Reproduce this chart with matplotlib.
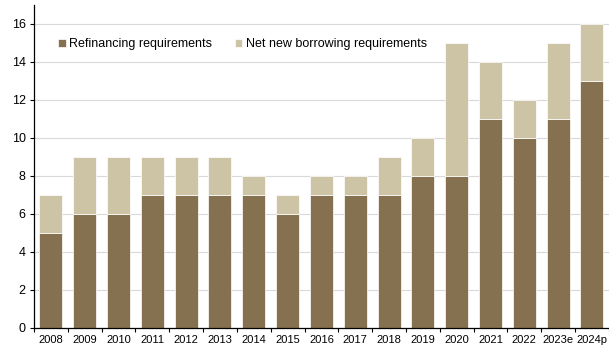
import numpy as np
import matplotlib
matplotlib.use("Agg")
from matplotlib import pyplot as plt
from matplotlib.ticker import FixedLocator

plt.rcParams["font.family"] = ["Liberation Sans", "DejaVu Sans"]

years = ["2008", "2009", "2010", "2011", "2012", "2013", "2014", "2015", "2016",
         "2017", "2018", "2019", "2020", "2021", "2022", "2023e", "2024p"]
refinancing = [5, 6, 6, 7, 7, 7, 7, 6, 7, 7, 7, 8, 8, 11, 10, 11, 13]
net_new = [2, 3, 3, 2, 2, 2, 1, 1, 1, 1, 2, 2, 7, 3, 2, 4, 3]

dark = "#857150"
light = "#CDC4A5"

fig = plt.figure(figsize=(6.09, 3.47), dpi=100)
ax = fig.add_axes([0.0558, 0.0548, 0.944, 0.9308])

x = np.arange(len(years))
ax.bar(x, refinancing, width=0.68, color=dark, edgecolor="white", linewidth=0.5,
       label="Refinancing requirements", zorder=2)
ax.bar(x, net_new, width=0.68, bottom=refinancing, color=light, edgecolor="white",
       linewidth=0.5, label="Net new borrowing requirements", zorder=2)

ax.set_xlim(-0.5, len(years) - 0.5)
ax.set_ylim(0, 17)
ax.set_yticks(range(0, 17, 2))
ax.yaxis.grid(True, color="#D9D9D9", linewidth=0.8, zorder=0)
ax.set_axisbelow(True)

ax.set_xticks(x)
ax.set_xticklabels(years, fontsize=8)
ax.xaxis.set_minor_locator(FixedLocator(np.arange(-0.5, len(years), 1.0)))
ax.tick_params(axis="x", which="major", length=0, pad=5)
ax.tick_params(axis="x", which="minor", length=3, direction="out", width=0.8)
ax.tick_params(axis="y", labelsize=9, length=3, width=0.8, pad=3)

for s in ["top", "right"]:
    ax.spines[s].set_visible(False)
ax.spines["left"].set_linewidth(0.9)
ax.spines["bottom"].set_linewidth(0.9)

ax.legend(loc="center left", bbox_to_anchor=(0.042, 0.879), ncol=2, frameon=False,
          fontsize=9, handlelength=0.6, handleheight=0.6, handletextpad=0.3,
          columnspacing=1.8, borderpad=0, borderaxespad=0)

fig.savefig("out.png", dpi=100)
